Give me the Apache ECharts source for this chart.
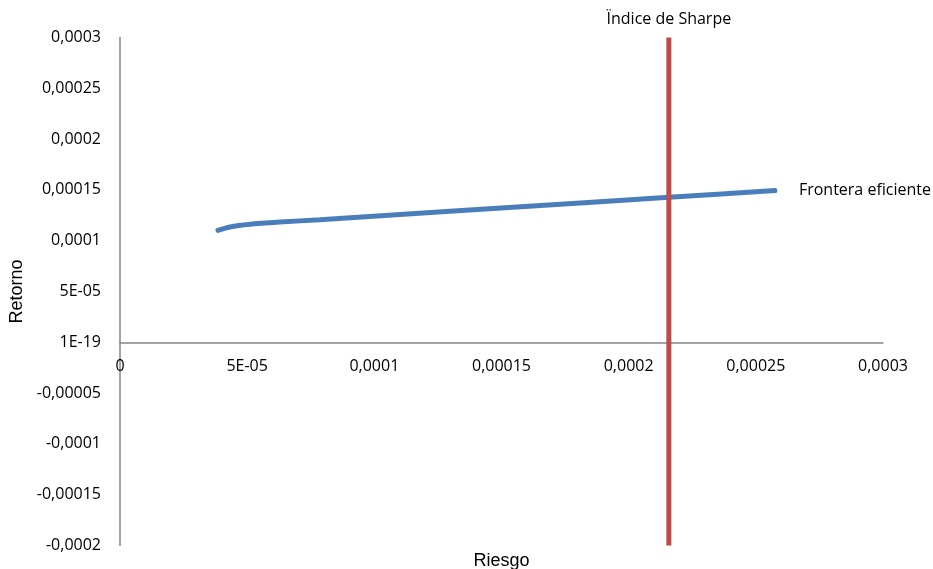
<!DOCTYPE html>
<html>
<head>
<meta charset="utf-8">
<script src="https://cdn.jsdelivr.net/npm/echarts@6/dist/echarts.min.js"></script>
<style>html,body{margin:0;padding:0;background:#fff;}#c{width:933px;height:569px;}</style>
</head>
<body>
<div id="c"></div>
<script>
// Frontera eficiente (Riesgo, Retorno)
const fronteraX = [0.0000385, 0.0000432, 0.0000511, 0.0000629, 0.0000786, 0.0001297, 0.0001887, 0.0002158, 0.0002575];
const fronteraY = [0.0001102, 0.0001135, 0.0001161, 0.0001183, 0.0001207, 0.0001289, 0.0001384, 0.0001427, 0.0001493];
// Índice de Sharpe vertical line
const sharpeX = [0.0002158, 0.0002158];
const sharpeY = [-0.0002, 0.0003];
const xTickLabels = ['0', '5E-05', '0,0001', '0,00015', '0,0002', '0,00025', '0,0003'];
const yTickLabels = ['-0,0002', '-0,00015', '-0,0001', '-0,00005', '1E-19', '5E-05', '0,0001', '0,00015', '0,0002', '0,00025', '0,0003'];
const seriesNames = ['Frontera eficiente', 'Ïndice de Sharpe'];

const xMin = 0, xMax = 0.0003, xInt = 0.00005;
const yMin = -0.0002, yMax = 0.0003, yInt = 0.00005;

const gridTop = 37.5, gridBottom = 23.5, chartH = 569;
const plotH = chartH - gridTop - gridBottom;
// distance from bottom of plot to the zero line (x axis crosses at y = 0)
const zeroFromBottom = plotH * (0 - yMin) / (yMax - yMin);

const fronteraData = fronteraX.map((x, i) => [x, fronteraY[i]]);
const sharpeData = sharpeX.map((x, i) => {
  if (i === sharpeX.length - 1) {
    return { value: [x, sharpeY[i]], label: { show: true, position: 'top', distance: 10, formatter: seriesNames[1], fontFamily: 'Open Sans', fontSize: 16, color: '#000' } };
  }
  return [x, sharpeY[i]];
});

const chart = echarts.init(document.getElementById('c'), null, { renderer: 'canvas' });
chart.setOption({
  animation: false,
  backgroundColor: '#fff',
  grid: { left: 120, right: 50, top: gridTop, bottom: gridBottom, containLabel: false, outerBoundsMode: 'none' },
  xAxis: {
    type: 'value', min: xMin, max: xMax, interval: xInt,
    offset: -zeroFromBottom,
    name: 'Riesgo', nameLocation: 'middle', nameGap: 210,
    nameTextStyle: { fontFamily: 'Liberation Sans', fontSize: 18, color: '#000' },
    axisLine: { show: true, onZero: false, lineStyle: { color: '#868686', width: 1.5 } },
    axisTick: { show: false },
    splitLine: { show: false },
    axisLabel: {
      margin: 16, fontFamily: 'Open Sans', fontSize: 16, color: '#000',
      formatter: v => xTickLabels[Math.round((v - xMin) / xInt)]
    }
  },
  yAxis: {
    type: 'value', min: yMin, max: yMax, interval: yInt,
    name: 'Retorno', nameLocation: 'middle', nameGap: 94, nameRotate: 90,
    nameTextStyle: { fontFamily: 'Liberation Sans', fontSize: 18, color: '#000' },
    axisLine: { show: true, onZero: false, lineStyle: { color: '#868686', width: 1.5 } },
    axisTick: { show: false },
    splitLine: { show: false },
    axisLabel: {
      margin: 19, fontFamily: 'Open Sans', fontSize: 16, color: '#000',
      formatter: v => yTickLabels[Math.round((v - yMin) / yInt)]
    }
  },
  series: [
    {
      name: seriesNames[0], type: 'line', data: fronteraData, smooth: 0.25,
      symbol: 'none', clip: false,
      lineStyle: { color: '#4A7EBB', width: 5, cap: 'round' },
      itemStyle: { color: '#4A7EBB' },
      endLabel: { show: true, formatter: seriesNames[0], distance: 24, fontFamily: 'Open Sans', fontSize: 16, color: '#000' }
    },
    {
      name: seriesNames[1], type: 'line', data: sharpeData,
      symbol: 'circle', symbolSize: 0, showSymbol: true, clip: false,
      lineStyle: { color: '#BE4B48', width: 5 },
      itemStyle: { color: '#BE4B48' }
    }
  ]
});
</script>
</body>
</html>
